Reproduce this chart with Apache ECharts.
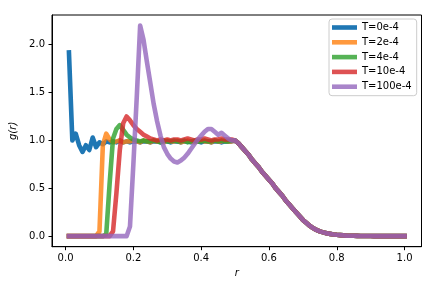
<!DOCTYPE html>
<html><head><meta charset="utf-8">
<script src="https://cdn.jsdelivr.net/npm/echarts@6/dist/echarts.min.js"></script>
<style>html,body{margin:0;padding:0;background:#fff}#c{width:436px;height:291px}</style>
</head><body><div id="c"></div>
<script>
// r grid (bin centres)
const r = [0.01,0.02,0.03,0.04,0.05,0.06,0.07,0.08,0.09,0.10,
0.11,0.12,0.13,0.14,0.15,0.16,0.17,0.18,0.19,0.20,
0.21,0.22,0.23,0.24,0.25,0.26,0.27,0.28,0.29,0.30,
0.31,0.32,0.33,0.34,0.35,0.36,0.37,0.38,0.39,0.40,
0.41,0.42,0.43,0.44,0.45,0.46,0.47,0.48,0.49,0.50,
0.51,0.52,0.53,0.54,0.55,0.56,0.57,0.58,0.59,0.60,
0.61,0.62,0.63,0.64,0.65,0.66,0.67,0.68,0.69,0.70,
0.71,0.72,0.73,0.74,0.75,0.76,0.77,0.78,0.79,0.80,
0.81,0.82,0.83,0.84,0.85,0.86,0.87,0.88,0.89,0.90,
0.91,0.92,0.93,0.94,0.95,0.96,0.97,0.98,0.99,1.00];

const seriesNames = ['T=0e-4','T=2e-4','T=4e-4','T=10e-4','T=100e-4'];

// g(r) for r = 0.01 .. 0.49
const gT0 = [1.92,1.00,1.07,0.95,0.88,0.95,0.90,1.03,0.93,0.98,
0.96,0.99,0.98,0.99,0.98,1.00,0.98,0.99,0.98,0.99,
0.99,0.98,0.99,0.99,0.98,0.99,0.99,0.98,0.99,0.99,
0.98,0.99,0.99,0.98,0.99,0.99,0.98,0.99,0.99,0.98,
0.99,0.99,0.98,0.99,0.99,0.98,0.99,0.99,0.99];
const gT2 = [0,0,0,0,0,0,0,0,0.00,0.05,
0.95,1.07,1.01,0.98,0.99,1.00,0.98,0.99,0.99,1.00,
0.99,0.98,1.00,0.99,0.98,1.00,0.99,0.99,0.98,1.00,
0.99,0.99,1.00,0.98,0.99,1.00,0.99,0.98,0.99,1.00,
0.99,0.99,0.98,1.00,0.99,0.99,1.00,0.99,0.99];
const gT4 = [0,0,0,0,0,0,0,0,0,0,
0,0.02,0.55,1.02,1.12,1.16,1.11,1.06,1.03,1.01,
1.00,0.99,1.00,0.99,0.99,1.00,0.99,0.98,1.00,0.99,
0.99,1.00,0.99,0.99,1.00,0.98,0.99,1.00,0.99,0.99,
1.00,0.99,0.99,1.00,0.99,1.00,0.99,0.99,1.00];
const gT10 = [0,0,0,0,0,0,0,0,0,0,
0,0,0,0.05,0.45,0.90,1.18,1.25,1.21,1.16,
1.12,1.09,1.06,1.04,1.02,1.01,1.00,1.01,1.00,1.01,
1.00,1.01,1.01,1.00,1.01,1.02,1.01,1.00,1.01,1.01,
1.02,1.01,1.00,1.01,1.01,1.02,1.01,1.01,1.01];
const gT100 = [0,0,0,0,0,0,0,0,0,0,
0,0,0,0,0,0,0,0,0.10,0.75,
1.45,2.20,2.05,1.82,1.60,1.38,1.20,1.05,0.93,0.86,
0.81,0.78,0.77,0.79,0.82,0.86,0.91,0.96,1.01,1.05,
1.09,1.12,1.12,1.09,1.06,1.08,1.05,1.02,1.00];
// common tail for r = 0.50 .. 1.00 (all curves coincide)
const gTail = [1.00,0.97,0.93,0.89,0.85,0.80,0.76,0.72,0.67,0.63,
0.59,0.55,0.50,0.46,0.42,0.37,0.33,0.29,0.25,0.21,
0.17,0.14,0.11,0.085,0.065,0.05,0.04,0.03,0.024,0.018,
0.014,0.011,0.008,0.006,0.005,0.004,0.003,0.002,0.002,0.001,
0.001,0,0,0,0,0,0,0,0,0,0];

const xTicks = [0.0,0.2,0.4,0.6,0.8,1.0];
const yTicks = [0.0,0.5,1.0,1.5,2.0];

const heads = [gT0,gT2,gT4,gT10,gT100];
const colors = ['rgba(31,119,180,1)','rgba(255,127,14,0.8)','rgba(44,160,44,0.8)','rgba(214,39,40,0.8)','rgba(148,103,189,0.8)'];
const FONT = 'DejaVu Sans';

const series = heads.map((h,k)=>{
  const vals = h.concat(gTail);
  return {
    name: seriesNames[k], type:'line', symbol:'none', smooth:false,
    data: r.map((x,i)=>[x, vals[i]]),
    lineStyle:{width:4.6, color:colors[k], cap:'square', join:'round'},
    itemStyle:{color:colors[k]},
    emphasis:{disabled:true}
  };
});

const chart = echarts.init(document.getElementById('c'), null, {renderer:'canvas'});
chart.setOption({
  animation:false,
  backgroundColor:'#fff',
  grid:{left:52, right:14.5, top:15, bottom:44.3, show:true, borderColor:'#000', borderWidth:1, backgroundColor:'transparent'},
  xAxis:{type:'value', min:-0.04, max:1.05,
    name:'r', nameLocation:'middle', nameGap:19,
    nameTextStyle:{fontFamily:FONT, fontSize:10, fontStyle:'italic', color:'#000'},
    axisLine:{show:true, onZero:false, lineStyle:{color:'#000', width:1}},
    axisTick:{show:true, inside:false, length:3.5, lineStyle:{color:'#000', width:1}, customValues:xTicks},
    axisLabel:{show:true, margin:7, fontFamily:FONT, fontSize:10, color:'#000', customValues:xTicks, formatter:v=>v.toFixed(1)},
    splitLine:{show:false}},
  yAxis:{type:'value', min:-0.11, max:2.31,
    name:'g(r)', nameLocation:'middle', nameGap:27, nameRotate:90,
    nameTextStyle:{fontFamily:FONT, fontSize:10, fontStyle:'italic', color:'#000'},
    axisLine:{show:true, onZero:false, lineStyle:{color:'#000', width:1}},
    axisTick:{show:true, inside:false, length:3.5, lineStyle:{color:'#000', width:1}, customValues:yTicks},
    axisLabel:{show:true, margin:7, fontFamily:FONT, fontSize:10, color:'#000', customValues:yTicks, formatter:v=>v.toFixed(1)},
    splitLine:{show:false}},
  legend:{orient:'vertical', left:329, top:19, align:'left',
    padding:[3.5,5,4,3], itemGap:4.8, itemWidth:25, itemHeight:4.6,
    icon:'rect', backgroundColor:'rgba(255,255,255,0.8)', borderColor:'#cccccc', borderWidth:1, borderRadius:3,
    textStyle:{fontFamily:FONT, fontSize:10, color:'#000', lineHeight:10},
    data: seriesNames},
  series: series
});
</script></body></html>
